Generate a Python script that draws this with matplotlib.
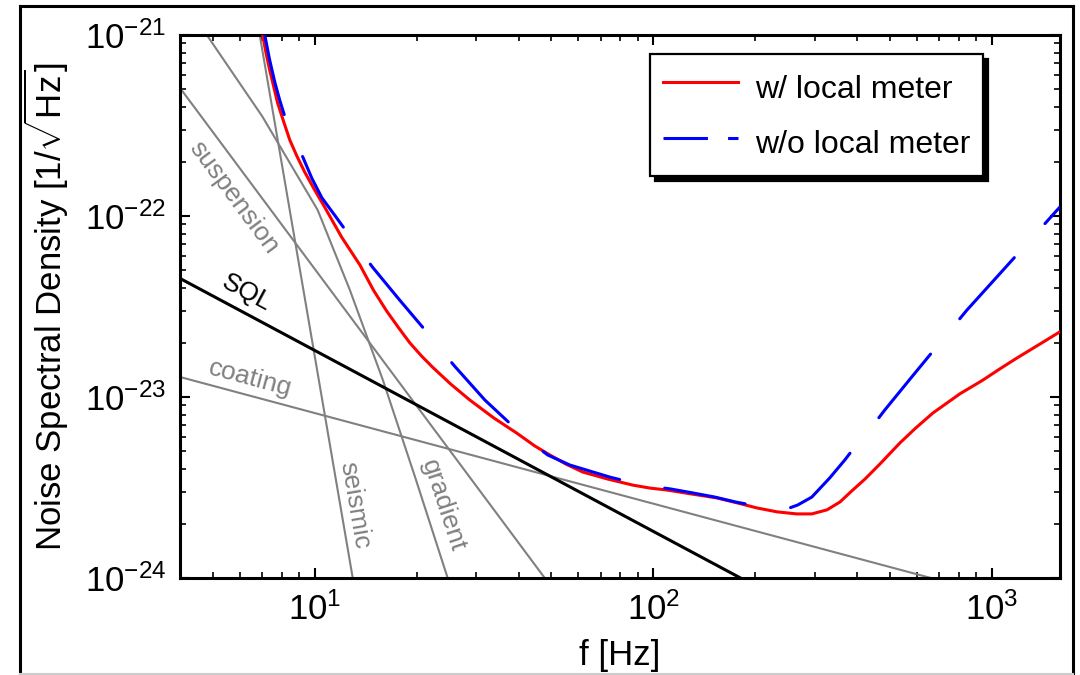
import matplotlib
matplotlib.use("Agg")
import matplotlib.pyplot as plt
from matplotlib.lines import Line2D
from matplotlib.patches import Shadow
from matplotlib.ticker import LogLocator, NullFormatter, FixedLocator

plt.rcParams['font.family'] = ['Liberation Sans', 'DejaVu Sans']
plt.rcParams['mathtext.fontset'] = 'custom'
plt.rcParams['mathtext.rm'] = 'Liberation Sans'
plt.rcParams['mathtext.it'] = 'Liberation Sans:italic'
plt.rcParams['mathtext.bf'] = 'Liberation Sans:bold'
plt.rcParams['mathtext.default'] = 'regular'
plt.rcParams['lines.scale_dashes'] = False

# values (f in Hz, noise in 1/sqrt(Hz))
f_local = [7.02, 7.17, 7.36, 7.57, 7.77, 8.10, 8.44, 8.85, 9.34, 10.0, 10.7,
           12.0, 13.6, 14.9, 16.3, 17.7, 19.1, 20.7, 22.3, 25.2, 28.7, 33.8,
           39.5, 44.7, 49.5, 55.2, 61.9, 73.4, 87.0, 97.7, 110, 130, 154, 177,
           202, 232, 265, 294, 326, 356, 386, 422, 467, 535, 596, 670, 804,
           941, 1056, 1185, 1386, 1588]
h_local = [1.0e-21, 8.06e-22, 6.41e-22, 5.16e-22, 4.21e-22, 3.31e-22, 2.63e-22,
           2.15e-22, 1.75e-22, 1.39e-22, 1.12e-22, 7.66e-23, 5.36e-23, 3.90e-23,
           2.99e-23, 2.41e-23, 1.99e-23, 1.68e-23, 1.46e-23, 1.18e-23, 9.63e-24,
           7.66e-24, 6.32e-24, 5.36e-24, 4.78e-24, 4.26e-24, 3.85e-24, 3.52e-24,
           3.26e-24, 3.14e-24, 3.06e-24, 2.91e-24, 2.77e-24, 2.60e-24, 2.44e-24,
           2.32e-24, 2.26e-24, 2.26e-24, 2.38e-24, 2.63e-24, 3.03e-24, 3.52e-24,
           4.26e-24, 5.57e-24, 6.74e-24, 8.16e-24, 1.04e-23, 1.24e-23, 1.43e-23,
           1.64e-23, 1.96e-23, 2.29e-23]

f_nolocal = [7.12, 7.36, 7.62, 7.88, 8.15, 8.61, 9.22, 9.80, 10.5, 11.5, 12.5,
             13.6, 14.8, 17.8, 21.4, 23.6, 25.9, 31.8, 39.0, 43.8, 48.8, 56.7,
             64.9, 74.4, 85.2, 97.7, 113, 131, 152, 175, 202, 232, 253, 267, 294,
             332, 368, 402, 442, 483, 580, 702, 844, 1028, 1252, 1415, 1588]
h_nolocal = [1.0e-21, 7.28e-22, 5.50e-22, 4.37e-22, 3.57e-22, 2.80e-22, 2.12e-22,
             1.62e-22, 1.26e-22, 1.00e-22, 8.06e-23, 6.49e-23, 5.23e-23, 3.44e-23,
             2.29e-23, 1.82e-23, 1.48e-23, 9.63e-24, 6.74e-24, 5.57e-24, 4.78e-24,
             4.21e-24, 3.90e-24, 3.61e-24, 3.39e-24, 3.22e-24, 3.10e-24, 2.95e-24,
             2.80e-24, 2.63e-24, 2.50e-24, 2.44e-24, 2.44e-24, 2.53e-24, 2.80e-24,
             3.57e-24, 4.49e-24, 5.57e-24, 6.83e-24, 8.48e-24, 1.29e-23, 1.99e-23,
             3.02e-23, 4.54e-23, 6.83e-23, 8.81e-23, 1.12e-22]

f_sql = [4.0, 181]
h_sql = [4.52e-23, 1.0e-24]

f_coating = [4.0, 661]
h_coating = [1.29e-23, 1.0e-24]

f_suspension = [4.0, 47.8]
h_suspension = [5.1e-22, 1.0e-24]

f_seismic = [6.88, 12.95]
h_seismic = [1.0e-21, 1.0e-24]

f_gradient = [4.8, 7.0, 10.2, 12.7, 15.9, 19.8, 24.7]
h_gradient = [1.0e-21, 3.55e-22, 1.08e-22, 3.9e-23, 1.24e-23, 3.6e-24, 1.0e-24]

# curve labels: text, f, h, angle
curve_labels = [("suspension", 5.77, 1.27e-22, -53.4),
                ("SQL", 6.30, 3.76e-23, -28.2),
                ("coating", 6.43, 1.26e-23, -15.0),
                ("seismic", 13.1, 2.53e-24, -80.3),
                ("gradient", 23.9, 2.50e-24, -71.8)]

x_ticks = [10, 100, 1000]
y_ticks = [1e-24, 1e-23, 1e-22, 1e-21]

gray = '#808080'

fig = plt.figure(figsize=(10.8, 6.75), dpi=100)
ax = fig.add_axes([180/1080, 1-578/675, 880/1080, 543/675])
ax.set_xscale('log')
ax.set_yscale('log')

for fx, hy in [(f_suspension, h_suspension), (f_coating, h_coating),
               (f_seismic, h_seismic), (f_gradient, h_gradient)]:
    ax.plot(fx, hy, color=gray, lw=1.5, zorder=2)
ax.plot(f_sql, h_sql, color='black', lw=2.2, zorder=2)

ax.plot(f_local, h_local, color='red', lw=2.2, zorder=3, solid_joinstyle='round')
ax.plot(f_nolocal, h_nolocal, color='blue', lw=2.2, zorder=4,
        dashes=(59, 33), dash_capstyle='round', dash_joinstyle='round')

for txt, fx, hy, ang in curve_labels:
    ax.text(fx, hy, txt, rotation=ang, rotation_mode='anchor',
            ha='center', va='center', fontsize=19,
            color='black' if txt == 'SQL' else gray)

ax.set_xlim(4, 1590)
ax.set_ylim(1e-24, 1e-21)

ax.xaxis.set_major_locator(FixedLocator(x_ticks))
ax.yaxis.set_major_locator(FixedLocator(y_ticks))
for axis in (ax.xaxis, ax.yaxis):
    axis.set_minor_locator(LogLocator(base=10, subs=range(2, 10)))
    axis.set_minor_formatter(NullFormatter())

ax.tick_params(which='both', direction='in', top=True, right=True, labelsize=25)
ax.tick_params(which='major', length=7, width=1.5)
ax.tick_params(which='minor', length=4.3, width=1.2)
ax.tick_params(axis='x', pad=10)
ax.tick_params(axis='y', pad=10)
for sp in ax.spines.values():
    sp.set_linewidth(2.2)

ax.set_xlabel('f [Hz]', fontsize=25, labelpad=9)
ax.set_ylabel(r'Noise Spectral Density [1/$\sqrt{\mathrm{Hz}}$]', fontsize=25, labelpad=10)

handles = [Line2D([], [], color='red', lw=2.2),
           Line2D([], [], color='blue', lw=2.2, dashes=(32, 14.5, 7.5, 20))]
leg = ax.legend(handles, ['w/ local meter', 'w/o local meter'],
                loc='upper left', bbox_to_anchor=(0.534, 0.965),
                borderaxespad=0, fontsize=23, handlelength=2.35,
                handleheight=1.58, handletextpad=0.53, labelspacing=0.46,
                borderpad=0.4, fancybox=False, framealpha=1, edgecolor='black')
leg.get_frame().set_linewidth(1.6)
sh = Shadow(leg.legendPatch, 3.6, -3.6, facecolor='black', edgecolor='black',
            alpha=1, zorder=4.9)
ax.add_artist(sh)

# outer frame round the figure
fig.add_artist(Line2D([20/1080, 20/1080], [0, 1-6/675], color='black', lw=2.2))
fig.add_artist(Line2D([20/1080, 1073/1080], [1-6/675, 1-6/675], color='black', lw=2.2))
fig.add_artist(Line2D([1073/1080, 1073/1080], [0, 1-6/675], color='black', lw=2.2))
fig.add_artist(Line2D([20/1080, 1073/1080], [0.002, 0.002], color='#cccccc', lw=1.5))

fig.canvas.draw()
fig.savefig('out.png', dpi=100)
